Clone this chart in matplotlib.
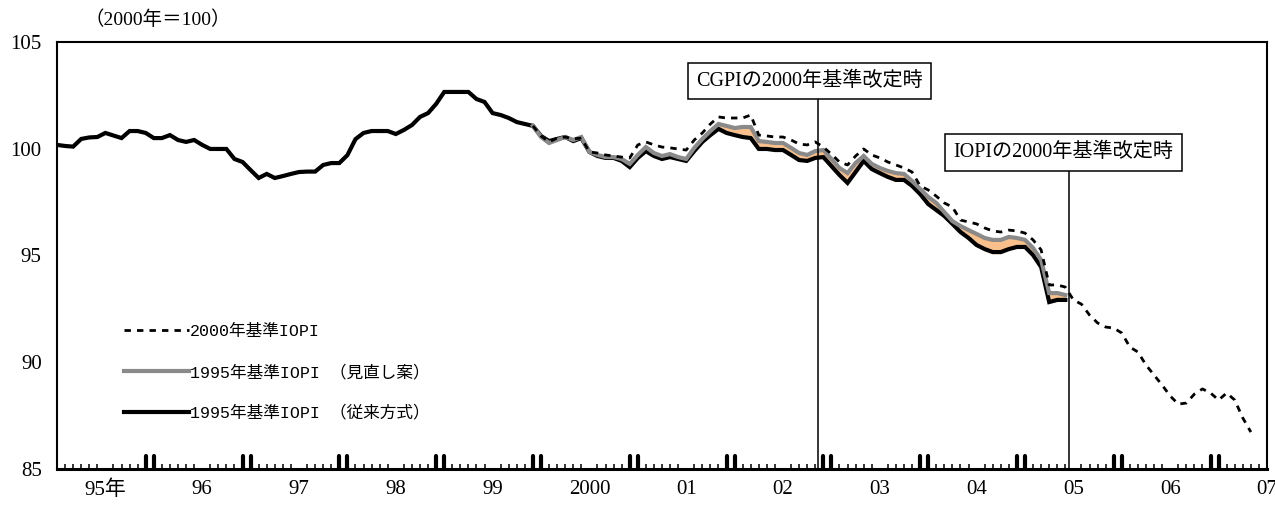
import numpy as np
import matplotlib
matplotlib.use("Agg")
import matplotlib.pyplot as plt
from matplotlib.lines import Line2D

plt.rcParams['font.family'] = ['Liberation Serif', 'Noto Sans CJK JP']

# x axis: months counted from Jan 1995
year_labels = ['95年', '96', '97', '98', '99', '2000', '01', '02', '03', '04', '05', '06', '07']

# 1995-base IOPI, conventional method (Jan 1995 -)
old_start = 0
iopi_1995_old = [
    100.18, 100.13, 100.10, 100.46, 100.53, 100.55, 100.74, 100.62, 100.50, 100.83,
    100.83, 100.74, 100.50, 100.50, 100.64, 100.41, 100.32, 100.41, 100.18, 99.99,
    99.99, 99.99, 99.52, 99.38, 99.00, 98.63, 98.82, 98.63, 98.72, 98.82,
    98.91, 98.93, 98.93, 99.24, 99.33, 99.33, 99.70, 100.45, 100.74, 100.83,
    100.83, 100.83, 100.69, 100.88, 101.11, 101.49, 101.67, 102.10, 102.66, 102.66,
    102.66, 102.66, 102.33, 102.19, 101.67, 101.58, 101.44, 101.25, 101.16, 101.07,
    100.60, 100.36, 100.46, 100.55, 100.36, 100.50, 99.85, 99.66, 99.57, 99.57,
    99.43, 99.14, 99.57, 99.89, 99.66, 99.52, 99.61, 99.52, 99.43, 99.89,
    100.32, 100.64, 100.93, 100.74, 100.64, 100.55, 100.50, 99.99, 99.99, 99.94,
    99.94, 99.71, 99.47, 99.43, 99.57, 99.61, 99.19, 98.77, 98.40, 98.91,
    99.43, 99.05, 98.86, 98.68, 98.54, 98.54, 98.26, 97.88, 97.41, 97.13,
    96.85, 96.48, 96.10, 95.82, 95.49, 95.30, 95.16, 95.16, 95.30, 95.40,
    95.40, 95.02, 94.46, 92.82, 92.92, 92.92,
]

# 1995-base IOPI, revised method (Dec 1999 -)
rev_start = 59
iopi_1995_rev = [
    101.07, 100.55, 100.27, 100.41, 100.55, 100.41, 100.55, 99.85, 99.71, 99.61,
    99.61, 99.52, 99.29, 99.71, 100.08, 99.80, 99.66, 99.75, 99.61, 99.52,
    100.04, 100.46, 100.83, 101.16, 101.07, 100.97, 101.02, 101.02, 100.36, 100.32,
    100.27, 100.27, 100.04, 99.80, 99.71, 99.89, 99.94, 99.52, 99.10, 98.86,
    99.33, 99.66, 99.29, 99.10, 98.96, 98.86, 98.82, 98.49, 98.12, 97.74,
    97.46, 97.03, 96.61, 96.38, 96.19, 96.01, 95.82, 95.73, 95.73, 95.87,
    95.82, 95.73, 95.35, 94.79, 93.24, 93.24, 93.15,
]

# 2000-base IOPI (Dec 1999 -)
new_start = 59
iopi_2000 = [
    101.07, 100.60, 100.32, 100.50, 100.55, 100.46, 100.50, 99.85, 99.80, 99.71,
    99.66, 99.61, 99.57, 100.18, 100.32, 100.18, 100.08, 100.04, 99.99, 99.94,
    100.41, 100.74, 101.16, 101.49, 101.44, 101.44, 101.44, 101.58, 100.64, 100.60,
    100.55, 100.55, 100.41, 100.22, 100.18, 100.32, 100.08, 99.75, 99.38, 99.24,
    99.66, 99.99, 99.71, 99.57, 99.38, 99.24, 99.10, 98.91, 98.26, 98.07,
    97.78, 97.46, 97.27, 96.66, 96.57, 96.48, 96.29, 96.15, 96.10, 96.19,
    96.15, 96.05, 95.73, 95.26, 93.62, 93.62, 93.52, 92.92, 92.72, 92.21,
    91.84, 91.65, 91.60, 91.37, 90.71, 90.48, 89.87, 89.40, 88.93, 88.42,
    88.04, 88.09, 88.51, 88.75, 88.56, 88.23, 88.56, 88.23, 87.39, 86.73,
]

# base-revision events: (month position, label, label box centre)
events = [
    (94.3, 'CGPIの2000年基準改定時', 93.3, 103.17),
    (125.4, 'IOPIの2000年基準改定時', 124.8, 99.82),
]

legend_labels = ['2000年基準IOPI', '1995年基準IOPI （見直し案）', '1995年基準IOPI （従来方式）']

x_old = np.arange(len(iopi_1995_old)) + old_start
x_rev = np.arange(len(iopi_1995_rev)) + rev_start
x_new = np.arange(len(iopi_2000)) + new_start
old_arr = np.array(iopi_1995_old)
rev_arr = np.array(iopi_1995_rev)

fig = plt.figure(figsize=(12.75, 5.08), dpi=100)
ax = fig.add_axes([57 / 1275, 1 - 469 / 508, 1210 / 1275, 427 / 508])
ax.set_xlim(0, 150)
ax.set_ylim(85, 105)

gray_c = '#8a8a8a'
orange_c = '#f9c08c'
dash = (0, (2.3, 2.2))

# gap between the two 1995-base series
ax.fill_between(x_rev, rev_arr, old_arr[rev_start - old_start:rev_start - old_start + len(rev_arr)],
                color=orange_c, lw=0, zorder=1)
ax.plot(x_old, old_arr, color='black', lw=3.0, solid_joinstyle='miter', zorder=2)
ax.plot(x_rev, rev_arr, color=gray_c, lw=3.0, solid_joinstyle='miter', zorder=3)
ax.plot(x_new, iopi_2000, color='black', lw=2.0, linestyle=dash, zorder=4)

# event markers
for xpos, text, bx, by in events:
    t = ax.text(bx, by, text, ha='center', va='center', fontsize=14.5, zorder=6,
                bbox=dict(boxstyle='square,pad=0.42', fc='white', ec='black', lw=1.1))
    fig.canvas.draw()
    bb = t.get_bbox_patch().get_window_extent().transformed(ax.transData.inverted())
    ax.vlines(xpos, 85, bb.y0, color='black', lw=1.1, zorder=5)

# ticks
ax.set_xticks(np.arange(6, 151, 12))
ax.set_xticklabels(year_labels)
ax.set_xticks(np.arange(0, 151), minor=True)
ax.tick_params(axis='x', which='major', length=0, pad=8, labelsize=15)
ax.tick_params(axis='x', which='minor', direction='in', length=3.8, width=1.1, color='black')
ax.set_yticks([85, 90, 95, 100, 105])
ax.tick_params(axis='y', which='both', length=0, pad=11, labelsize=15)

# bold year-boundary ticks (Dec and Jan)
for k in range(1, 13):
    for m in (12 * k - 1, 12 * k):
        ax.plot([m, m], [0, 0.031], transform=ax.get_xaxis_transform(), color='black',
                lw=3.0, solid_capstyle='round', clip_on=False, zorder=7)

for side in ['left', 'top', 'right']:
    ax.spines[side].set_linewidth(1.5)
ax.spines['bottom'].set_linewidth(2.2)

handles = [
    Line2D([], [], color='black', lw=2.0, linestyle=dash),
    Line2D([], [], color=gray_c, lw=3.0),
    Line2D([], [], color='black', lw=3.0),
]
ax.legend(handles, legend_labels, loc='upper left', bbox_to_anchor=(0.055, (469 - 324) / 427),
          frameon=False, handlelength=3.9, handletextpad=0.1,
          labelspacing=1.5, borderpad=0, borderaxespad=0,
          prop={'family': ['Liberation Mono', 'Noto Sans CJK JP'], 'size': 12})

fig.text(85 / 1275, 1 - 20 / 508, '（2000年＝100）', ha='left', va='center', fontsize=14)

fig.savefig('out.png', dpi=100)
